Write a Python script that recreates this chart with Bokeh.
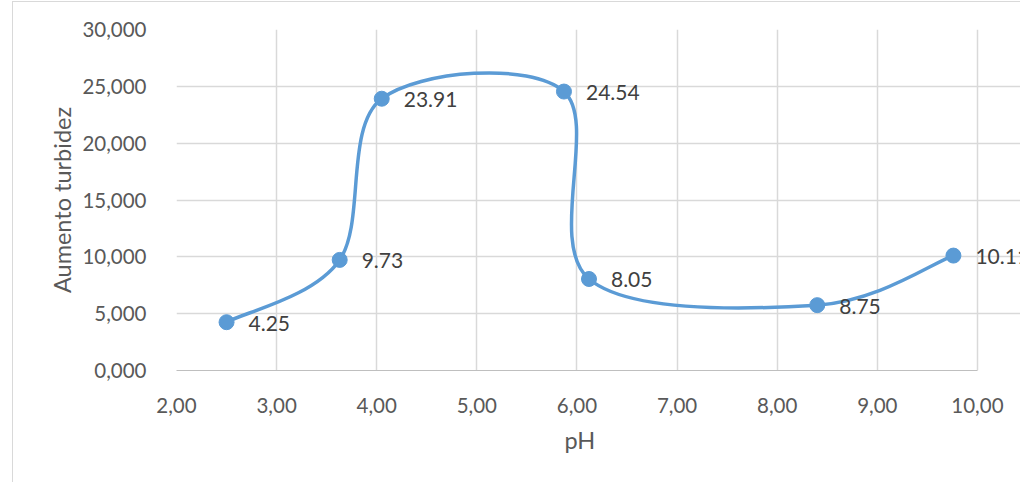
from bokeh.plotting import figure
from bokeh.models import FixedTicker, ColumnDataSource, LabelSet, Title
from bokeh.embed import file_html
from bokeh.resources import INLINE
from bokeh.core.properties import value

# ---- data ----
ph = [2.50, 3.63, 4.05, 5.87, 6.12, 8.40, 9.76]
turbidez = [4.25, 9.73, 23.91, 24.54, 8.05, 5.75, 10.11]
point_labels = ["4.25", "9.73", "23.91", "24.54", "8.05", "8.75", "10.11"]

x_ticks = [2, 3, 4, 5, 6, 7, 8, 9, 10]
x_tick_labels = ["2,00", "3,00", "4,00", "5,00", "6,00", "7,00", "8,00", "9,00", "10,00"]
y_ticks = [0, 5, 10, 15, 20, 25, 30]
y_tick_labels = ["0,000", "5,000", "10,000", "15,000", "20,000", "25,000", "30,000"]

x_title = "pH"
y_title = "Aumento turbidez"

# ---- smooth (Excel-like Catmull-Rom) bezier segments built from the data ----
n = len(ph)
x0, y0, x1, y1, cx0, cy0, cx1, cy1 = [], [], [], [], [], [], [], []
for i in range(n - 1):
    pa = (ph[i - 1], turbidez[i - 1]) if i > 0 else (ph[i], turbidez[i])
    pb = (ph[i], turbidez[i])
    pc = (ph[i + 1], turbidez[i + 1])
    pd = (ph[i + 2], turbidez[i + 2]) if i + 2 < n else (ph[i + 1], turbidez[i + 1])
    x0.append(pb[0]); y0.append(pb[1])
    x1.append(pc[0]); y1.append(pc[1])
    cx0.append(pb[0] + (pc[0] - pa[0]) / 6.0)
    cy0.append(pb[1] + (pc[1] - pa[1]) / 6.0)
    cx1.append(pc[0] - (pd[0] - pb[0]) / 6.0)
    cy1.append(pc[1] - (pd[1] - pb[1]) / 6.0)

FONT = "Lato"
BLUE = "#5b9bd5"
GRID = "#d9d9d9"

# frame extends to the right edge so the last data label can overflow the
# axis area as in the reference; grid/axis are bounded to 2..10
p = figure(width=1008, height=481, x_range=(2, 10.44), y_range=(0, 30),
           output_backend="svg", toolbar_location=None,
           min_border_left=163, min_border_right=0, min_border_top=27, min_border_bottom=113,
           background_fill_color="white", border_fill_color="white")
p.margin = (1, 0, 0, 12)
p.styles = {"border-left": "1px solid #d9d9d9", "border-top": "1px solid #d9d9d9"}
p.outline_line_color = None

p.xaxis.ticker = FixedTicker(ticks=x_ticks)
p.yaxis.ticker = FixedTicker(ticks=y_ticks)
p.xaxis.major_label_overrides = {t: l for t, l in zip(x_ticks, x_tick_labels)}
p.yaxis.major_label_overrides = {t: l for t, l in zip(y_ticks, y_tick_labels)}
p.xaxis.bounds = (2, 10)

for ax in (p.xaxis, p.yaxis):
    ax.major_tick_line_color = None
    ax.minor_tick_line_color = None
    ax.major_label_text_font = FONT
    ax.major_label_text_font_size = "20.5px"
    ax.major_label_text_color = "#595959"
    ax.axis_label_text_font = FONT
    ax.axis_label_text_font_size = "23.5px"
    ax.axis_label_text_font_style = "normal"
    ax.axis_label_text_color = "#595959"

p.xaxis.axis_line_color = "#bfbfbf"
p.xaxis.axis_line_width = 1
p.yaxis.axis_line_color = None
p.yaxis.axis_label = y_title
p.xaxis.major_label_standoff = 21
p.yaxis.major_label_standoff = 24
p.yaxis.axis_label_standoff = 3

# x-axis title centred under the 2..10 span (not the extended frame)
xt = Title(text=x_title, align="left", offset=388, standoff=16,
           text_font=FONT, text_font_size="23.5px", text_font_style="normal",
           text_color="#595959")
p.add_layout(xt, "below")

p.xgrid.grid_line_color = GRID
p.ygrid.grid_line_color = GRID
p.xgrid.grid_line_width = 1.5
p.ygrid.grid_line_width = 1.5
p.ygrid.bounds = (2, 10)

p.bezier(x0=x0, y0=y0, x1=x1, y1=y1, cx0=cx0, cy0=cy0, cx1=cx1, cy1=cy1,
         line_color=BLUE, line_width=3.5)

src = ColumnDataSource(dict(x=ph, y=turbidez, lab=point_labels))
p.scatter("x", "y", source=src, size=15, fill_color=BLUE, line_color=BLUE)
labels = LabelSet(x="x", y="y", text="lab", source=src, x_offset=22, y_offset=-1,
                  text_baseline="middle", text_align="left",
                  text_font=value(FONT), text_font_size="21px", text_color="#404040")
p.add_layout(labels)

open("out.html", "w").write(file_html(p, INLINE))
